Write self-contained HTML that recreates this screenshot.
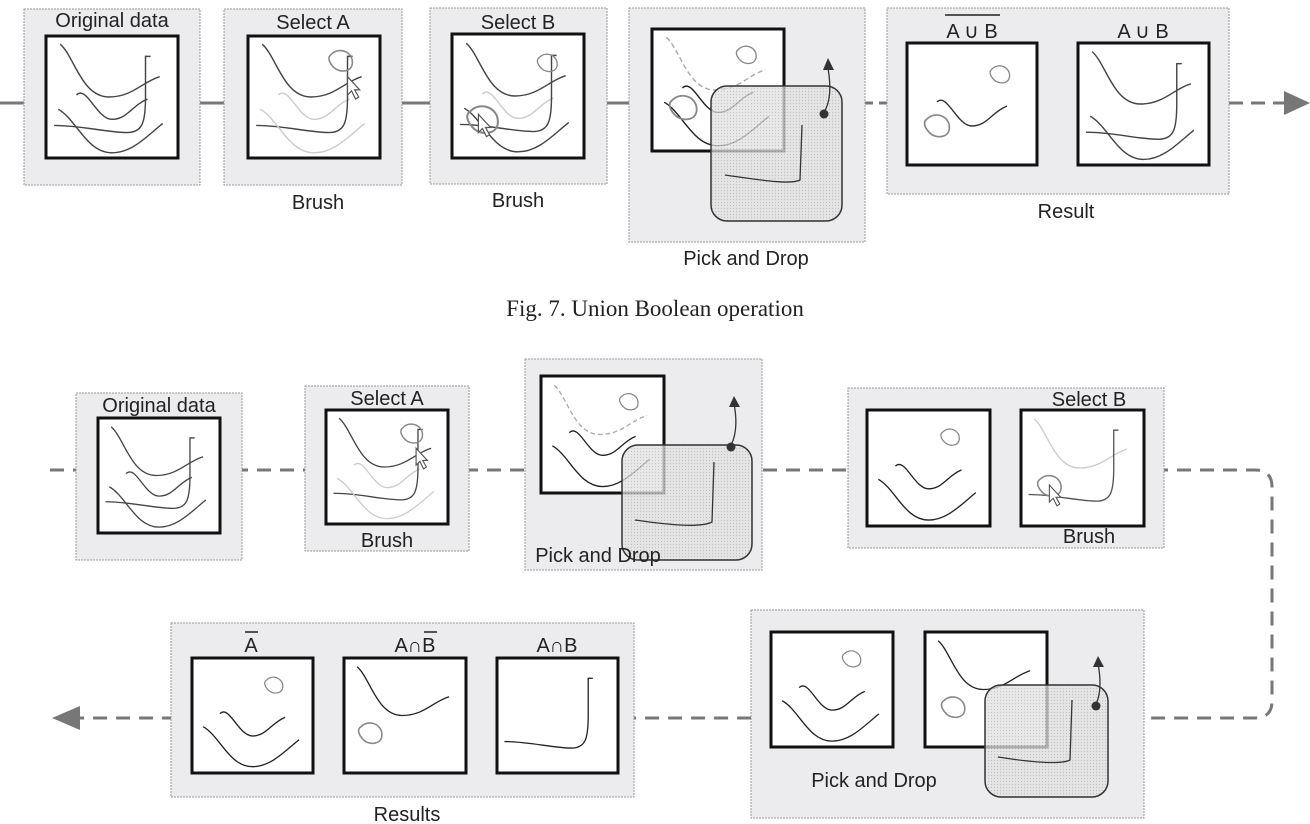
<!DOCTYPE html>
<html><head><meta charset="utf-8"><style>
html,body{margin:0;padding:0;background:#fff;width:1310px;height:824px;overflow:hidden}
svg text{font-family:"Liberation Sans",sans-serif;fill:#222}
</style></head><body>
<svg width="1310" height="824" viewBox="0 0 1310 824" xmlns="http://www.w3.org/2000/svg">
<defs>
<pattern id="dots" width="3" height="3" patternUnits="userSpaceOnUse"><rect width="3" height="3" fill="#e2e2e2"/><circle cx="1.5" cy="1.5" r="0.6" fill="#b0b0b0"/></pattern>
<g id="cS"><path d="M14,8 C28,20 35,60 62,60 C85,60 95,45 112,40" fill="none" stroke-width="1.4"/></g>
<g id="cM"><path d="M30,58 C40,48 50,82 65,82 C80,82 85,68 100,62" fill="none" stroke-width="1.4"/></g>
<g id="cL"><path d="M8,88 C35,88 60,95 80,95 C95,95 98,85 98,60 L98,20 L103,20" fill="none" stroke-width="1.4"/></g>
<g id="cB"><path d="M12,72 C30,82 40,115 65,115 C85,115 100,98 115,86" fill="none" stroke-width="1.4"/></g>
<g id="blob"><path d="M0,0 C6,-6 16,-2 16,6 C16,14 6,14 2,10 C-2,6 -3,2 0,0Z" fill="none" stroke="#888" stroke-width="1.2"/></g>
<g id="cursor"><path d="M0,0 L0,18 L4,14 L8,22 L11,20 L7,13 L12,13Z" fill="#fff" stroke="#555" stroke-width="1.2"/></g>
</defs>

<g stroke="#777" stroke-width="3">
<line x1="0" y1="103" x2="24" y2="103"/><line x1="200" y1="103" x2="224" y2="103"/>
<line x1="402" y1="103" x2="430" y2="103"/><line x1="607" y1="103" x2="630" y2="103"/>
<line x1="865" y1="103" x2="887" y2="103" stroke-dasharray="8,6"/>
<line x1="1229" y1="103" x2="1285" y2="103" stroke-dasharray="14,8"/>
</g>
<polygon points="1284,91 1310,103 1284,115" fill="#777"/>

<g fill="#ececee" stroke="#999" stroke-width="1" stroke-dasharray="2,1">
<rect x="24" y="9" width="176" height="176"/>
<rect x="224" y="9" width="178" height="176"/>
<rect x="430" y="8" width="177" height="176"/>
<rect x="629" y="8" width="236" height="234"/>
<rect x="887" y="8" width="342" height="186"/>
</g>
<g fill="#fff" stroke="#111" stroke-width="3">
<rect x="46" y="36" width="132" height="122"/>
<rect x="248" y="36" width="132" height="122"/>
<rect x="452" y="34" width="132" height="124"/>
<rect x="652" y="29" width="132" height="122"/>
<rect x="907" y="43" width="130" height="122"/>
<rect x="1078" y="43" width="131" height="122"/>
</g>
<g stroke="#444"><svg x="46" y="36" width="132" height="122" viewBox="0 0 130 120" overflow="visible"><use href="#cS"/><use href="#cM"/><use href="#cL"/><use href="#cB"/></svg></g>
<g><svg x="248" y="36" width="132" height="122" viewBox="0 0 130 120" overflow="visible"><use href="#cS" stroke="#444"/><use href="#cM" stroke="#ccc"/><use href="#cL" stroke="#444"/><use href="#cB" stroke="#ccc"/><g transform="translate(82,18) scale(1.3)"><use href="#blob"/></g><g transform="translate(98,40)"><use href="#cursor"/></g></svg></g>
<g><svg x="452" y="34" width="132" height="124" viewBox="0 0 130 120" overflow="visible"><use href="#cS" stroke="#444"/><use href="#cM" stroke="#ccc"/><use href="#cL" stroke="#444"/><use href="#cB" stroke="#444"/><g transform="translate(86,22) scale(1.1)"><use href="#blob"/></g><g transform="translate(18,75) scale(1.7)"><use href="#blob"/></g><g transform="translate(26,78)"><use href="#cursor"/></g></svg></g>
<g><svg x="652" y="29" width="132" height="122" viewBox="0 0 130 120" overflow="visible"><use href="#cS" stroke="#aaa" stroke-dasharray="5,3"/><use href="#cM" stroke="#222"/><use href="#cB" stroke="#222"/><g transform="translate(85,20) scale(1.1)"><use href="#blob"/></g><g transform="translate(20,70) scale(1.5)"><use href="#blob"/></g></svg></g>
<rect x="711" y="86" width="131" height="135" rx="16" fill="url(#dots)" fill-opacity="0.75" stroke="#333" stroke-width="1.5"/>
<path d="M725,175 C760,180 790,185 800,180 L802,125" fill="none" stroke="#333" stroke-width="1.3"/>
<circle cx="824" cy="114" r="4.5" fill="#333"/>
<path d="M824,112 C832,100 830,80 828,68" fill="none" stroke="#333" stroke-width="1.3"/>
<polygon points="823,70 828,58 834,70" fill="#333"/>
<g><svg x="907" y="43" width="130" height="122" viewBox="0 0 130 120" overflow="visible"><use href="#cM" stroke="#333"/><g transform="translate(85,25) scale(1.1)"><use href="#blob"/></g><g transform="translate(20,75) scale(1.4)"><use href="#blob"/></g></svg></g>
<g><svg x="1078" y="43" width="131" height="122" viewBox="0 0 130 120" overflow="visible"><use href="#cS" stroke="#444"/><use href="#cL" stroke="#444"/><use href="#cB" stroke="#444"/></svg></g>

<g font-size="20" text-anchor="middle">
<text x="112" y="27">Original data</text>
<text x="313" y="29">Select A</text>
<text x="518" y="29">Select B</text>
<text x="318" y="209">Brush</text>
<text x="518" y="207">Brush</text>
<text x="746" y="265">Pick and Drop</text>
<text x="972" y="38">A ∪ B</text>
<text x="1143" y="38">A ∪ B</text>
<text x="1066" y="218">Result</text>
</g>
<line x1="945" y1="15" x2="1000" y2="15" stroke="#222" stroke-width="1.5"/>
<text x="655" y="316" font-size="23" text-anchor="middle" style="font-family:'Liberation Serif',serif">Fig.  7. Union Boolean operation</text>

<path d="M50,470 L1255,470 Q1272,470 1272,487 L1272,701 Q1272,718 1255,718 L75,718" fill="none" stroke="#777" stroke-width="3" stroke-dasharray="14,9"/>
<polygon points="80,706 52,718 80,730" fill="#777"/>

<g fill="#ececee" stroke="#999" stroke-width="1" stroke-dasharray="2,1">
<rect x="76" y="393" width="166" height="167"/>
<rect x="305" y="386" width="164" height="165"/>
<rect x="525" y="359" width="237" height="211"/>
<rect x="848" y="388" width="316" height="160"/>
<rect x="751" y="610" width="393" height="208"/>
<rect x="171" y="623" width="463" height="174"/>
</g>
<g fill="#fff" stroke="#111" stroke-width="3">
<rect x="98" y="418" width="122" height="115"/>
<rect x="326" y="410" width="122" height="114"/>
<rect x="541" y="376" width="123" height="117"/>
<rect x="867" y="410" width="123" height="116"/>
<rect x="1021" y="410" width="123" height="116"/>
<rect x="771" y="632" width="122" height="115"/>
<rect x="925" y="632" width="122" height="115"/>
<rect x="192" y="658" width="121" height="115"/>
<rect x="344" y="658" width="122" height="115"/>
<rect x="497" y="658" width="121" height="115"/>
</g>
<g stroke="#444"><svg x="98" y="418" width="122" height="115" viewBox="0 0 130 120" overflow="visible"><use href="#cS"/><use href="#cM"/><use href="#cL"/><use href="#cB"/></svg></g>
<g><svg x="326" y="410" width="122" height="114" viewBox="0 0 130 120" overflow="visible"><use href="#cS" stroke="#444"/><use href="#cM" stroke="#ccc"/><use href="#cL" stroke="#444"/><use href="#cB" stroke="#ccc"/><g transform="translate(82,18) scale(1.3)"><use href="#blob"/></g><g transform="translate(96,40)"><use href="#cursor"/></g></svg></g>
<g><svg x="541" y="376" width="123" height="117" viewBox="0 0 130 120" overflow="visible"><use href="#cS" stroke="#aaa" stroke-dasharray="5,3"/><use href="#cM" stroke="#222"/><use href="#cB" stroke="#222"/><g transform="translate(85,20) scale(1.1)"><use href="#blob"/></g></svg></g>
<rect x="622" y="445" width="130" height="115" rx="16" fill="url(#dots)" fill-opacity="0.75" stroke="#333" stroke-width="1.5"/>
<path d="M635,520 C670,525 700,528 712,522 L714,462" fill="none" stroke="#333" stroke-width="1.3"/>
<circle cx="731" cy="447" r="4.5" fill="#333"/>
<path d="M731,445 C738,432 736,414 734,404" fill="none" stroke="#333" stroke-width="1.3"/>
<polygon points="729,407 734,396 740,407" fill="#333"/>
<g><svg x="867" y="410" width="123" height="116" viewBox="0 0 130 120" overflow="visible"><use href="#cM" stroke="#222"/><use href="#cB" stroke="#222"/><g transform="translate(80,22) scale(1.1)"><use href="#blob"/></g></svg></g>
<g><svg x="1021" y="410" width="123" height="116" viewBox="0 0 130 120" overflow="visible"><use href="#cS" stroke="#ccc"/><use href="#cL" stroke="#555"/><g transform="translate(20,72) scale(1.4)"><use href="#blob"/></g><g transform="translate(30,78)"><use href="#cursor"/></g></svg></g>
<g><svg x="771" y="632" width="122" height="115" viewBox="0 0 130 120" overflow="visible"><use href="#cM" stroke="#222"/><use href="#cB" stroke="#222"/><g transform="translate(78,22) scale(1.1)"><use href="#blob"/></g></svg></g>
<g><svg x="925" y="632" width="122" height="115" viewBox="0 0 130 120" overflow="visible"><use href="#cS" stroke="#222"/><g transform="translate(20,72) scale(1.4)"><use href="#blob"/></g></svg></g>
<rect x="985" y="685" width="123" height="112" rx="16" fill="url(#dots)" fill-opacity="0.75" stroke="#333" stroke-width="1.5"/>
<path d="M998,757 C1030,762 1060,765 1070,760 L1072,700" fill="none" stroke="#333" stroke-width="1.3"/>
<circle cx="1096" cy="706" r="4.5" fill="#333"/>
<path d="M1096,704 C1102,692 1100,674 1098,664" fill="none" stroke="#333" stroke-width="1.3"/>
<polygon points="1093,667 1098,656 1104,667" fill="#333"/>
<g><svg x="192" y="658" width="121" height="115" viewBox="0 0 130 120" overflow="visible"><use href="#cM" stroke="#222"/><use href="#cB" stroke="#222"/><g transform="translate(80,22) scale(1.1)"><use href="#blob"/></g></svg></g>
<g><svg x="344" y="658" width="122" height="115" viewBox="0 0 130 120" overflow="visible"><use href="#cS" stroke="#222"/><g transform="translate(18,72) scale(1.4)"><use href="#blob"/></g></svg></g>
<g><svg x="497" y="658" width="121" height="115" viewBox="0 0 130 120" overflow="visible"><use href="#cL" stroke="#222"/></svg></g>

<g font-size="20" text-anchor="middle">
<text x="159" y="412">Original data</text>
<text x="387" y="405">Select A</text>
<text x="387" y="547">Brush</text>
<text x="598" y="562">Pick and Drop</text>
<text x="1089" y="406">Select B</text>
<text x="1089" y="543">Brush</text>
<text x="874" y="787">Pick and Drop</text>
<text x="251" y="652">A</text>
<text x="415" y="652">A∩B</text>
<text x="557" y="652">A∩B</text>
<text x="407" y="821">Results</text>
</g>
<line x1="245" y1="632" x2="258" y2="632" stroke="#222" stroke-width="1.5"/>
<line x1="424" y1="632" x2="437" y2="632" stroke="#222" stroke-width="1.5"/>
</svg>
</body></html>
